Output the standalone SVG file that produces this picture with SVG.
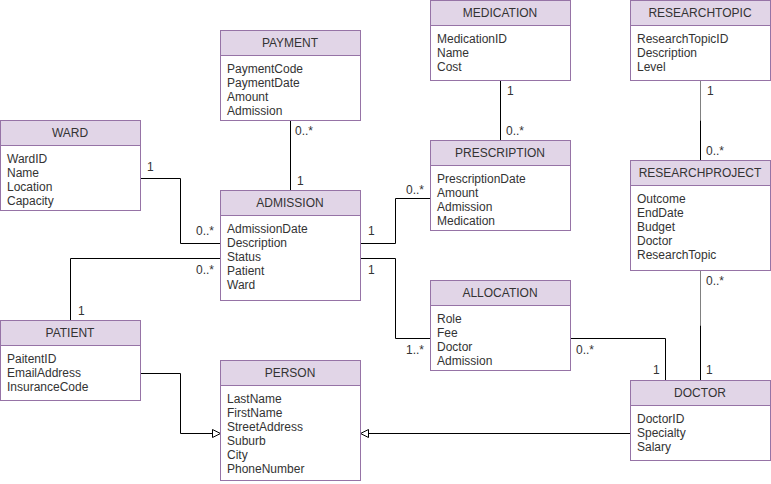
<svg xmlns="http://www.w3.org/2000/svg" width="771" height="484" viewBox="0 0 771 484">
<defs>
<style>
.box{fill:#ffffff;stroke:#9673a6;stroke-width:1}
.hdr{fill:#e1d5e7;stroke:#9673a6;stroke-width:1}
.t{font-family:"Liberation Sans",Arial,sans-serif;font-size:12px;fill:#333333}
.h{text-anchor:middle}
.c{fill:none;stroke:#000000;stroke-width:1}
.g{fill:none;stroke:#808080;stroke-width:1}
</style>
<marker id="tri" markerWidth="10" markerHeight="10" refX="9" refY="5" orient="auto" markerUnits="userSpaceOnUse">
<path d="M1,1 L9,5 L1,9 Z" fill="#ffffff" stroke="#000000" stroke-width="1"/>
</marker>
</defs>
<rect width="771" height="484" fill="#ffffff"/>

<g id="connectors">
<polyline class="c" points="140.5,178.5 180.5,178.5 180.5,243.5 220.5,243.5"/>
<polyline class="c" points="70.5,320.5 70.5,258.5 220.5,258.5"/>
<line class="c" x1="290.5" y1="120.5" x2="290.5" y2="190.5"/>
<polyline class="c" points="360.5,243.5 395.5,243.5 395.5,198.5 430.5,198.5"/>
<polyline class="c" points="360.5,258.5 395.5,258.5 395.5,338.5 430.5,338.5"/>
<polyline class="c" points="570.5,338.5 665.5,338.5 665.5,380.5"/>
<line class="c" x1="500.5" y1="80.5" x2="500.5" y2="140.5"/>
<line class="g" x1="700.5" y1="80.5" x2="700.5" y2="120.5"/>
<line class="c" x1="700.5" y1="120.5" x2="700.5" y2="160.5"/>
<line class="g" x1="700.5" y1="270.5" x2="700.5" y2="325.5"/>
<line class="c" x1="700.5" y1="325.5" x2="700.5" y2="380.5"/>
<polyline class="c" points="140.5,373.5 180.5,373.5 180.5,433.5 220.5,433.5" marker-end="url(#tri)"/>
<line class="c" x1="630.5" y1="433.5" x2="360.5" y2="433.5" marker-end="url(#tri)"/>
<text class="t" x="147" y="171">1</text>
<text class="t" x="196" y="235">0..*</text>
<text class="t" x="196" y="274">0..*</text>
<text class="t" x="78" y="315">1</text>
<text class="t" x="295" y="135">0..*</text>
<text class="t" x="297" y="185">1</text>
<text class="t" x="368" y="235">1</text>
<text class="t" x="368" y="274">1</text>
<text class="t" x="406" y="194">0..*</text>
<text class="t" x="406" y="354">1..*</text>
<text class="t" x="507" y="95">1</text>
<text class="t" x="506" y="135">0..*</text>
<text class="t" x="707" y="95">1</text>
<text class="t" x="706" y="155">0..*</text>
<text class="t" x="706" y="285">0..*</text>
<text class="t" x="706" y="374">1</text>
<text class="t" x="653" y="374">1</text>
<text class="t" x="576" y="354">0..*</text>
</g>

<g id="ward">
<rect class="box" x="0.5" y="120.5" width="140" height="90"/>
<rect class="hdr" x="0.5" y="120.5" width="140" height="25"/>
<text class="t h" x="70" y="137">WARD</text>
<text class="t" x="7" y="163">WardID</text>
<text class="t" x="7" y="177">Name</text>
<text class="t" x="7" y="191">Location</text>
<text class="t" x="7" y="205">Capacity</text>
</g>

<g id="payment">
<rect class="box" x="220.5" y="30.5" width="140" height="90"/>
<rect class="hdr" x="220.5" y="30.5" width="140" height="25"/>
<text class="t h" x="290" y="47">PAYMENT</text>
<text class="t" x="227" y="73">PaymentCode</text>
<text class="t" x="227" y="87">PaymentDate</text>
<text class="t" x="227" y="101">Amount</text>
<text class="t" x="227" y="115">Admission</text>
</g>

<g id="medication">
<rect class="box" x="430.5" y="0.5" width="140" height="80"/>
<rect class="hdr" x="430.5" y="0.5" width="140" height="25"/>
<text class="t h" x="500" y="17">MEDICATION</text>
<text class="t" x="437" y="43">MedicationID</text>
<text class="t" x="437" y="57">Name</text>
<text class="t" x="437" y="71">Cost</text>
</g>

<g id="researchtopic">
<rect class="box" x="630.5" y="0.5" width="140" height="80"/>
<rect class="hdr" x="630.5" y="0.5" width="140" height="25"/>
<text class="t h" x="700" y="17">RESEARCHTOPIC</text>
<text class="t" x="637" y="43">ResearchTopicID</text>
<text class="t" x="637" y="57">Description</text>
<text class="t" x="637" y="71">Level</text>
</g>

<g id="prescription">
<rect class="box" x="430.5" y="140.5" width="140" height="90"/>
<rect class="hdr" x="430.5" y="140.5" width="140" height="25"/>
<text class="t h" x="500" y="157">PRESCRIPTION</text>
<text class="t" x="437" y="183">PrescriptionDate</text>
<text class="t" x="437" y="197">Amount</text>
<text class="t" x="437" y="211">Admission</text>
<text class="t" x="437" y="225">Medication</text>
</g>

<g id="researchproject">
<rect class="box" x="630.5" y="160.5" width="140" height="110"/>
<rect class="hdr" x="630.5" y="160.5" width="140" height="25"/>
<text class="t h" x="700" y="177">RESEARCHPROJECT</text>
<text class="t" x="637" y="203">Outcome</text>
<text class="t" x="637" y="217">EndDate</text>
<text class="t" x="637" y="231">Budget</text>
<text class="t" x="637" y="245">Doctor</text>
<text class="t" x="637" y="259">ResearchTopic</text>
</g>

<g id="admission">
<rect class="box" x="220.5" y="190.5" width="140" height="110"/>
<rect class="hdr" x="220.5" y="190.5" width="140" height="25"/>
<text class="t h" x="290" y="207">ADMISSION</text>
<text class="t" x="227" y="233">AdmissionDate</text>
<text class="t" x="227" y="247">Description</text>
<text class="t" x="227" y="261">Status</text>
<text class="t" x="227" y="275">Patient</text>
<text class="t" x="227" y="289">Ward</text>
</g>

<g id="allocation">
<rect class="box" x="430.5" y="280.5" width="140" height="90"/>
<rect class="hdr" x="430.5" y="280.5" width="140" height="25"/>
<text class="t h" x="500" y="297">ALLOCATION</text>
<text class="t" x="437" y="323">Role</text>
<text class="t" x="437" y="337">Fee</text>
<text class="t" x="437" y="351">Doctor</text>
<text class="t" x="437" y="365">Admission</text>
</g>

<g id="patient">
<rect class="box" x="0.5" y="320.5" width="140" height="80"/>
<rect class="hdr" x="0.5" y="320.5" width="140" height="25"/>
<text class="t h" x="70" y="337">PATIENT</text>
<text class="t" x="7" y="363">PaitentID</text>
<text class="t" x="7" y="377">EmailAddress</text>
<text class="t" x="7" y="391">InsuranceCode</text>
</g>

<g id="person">
<rect class="box" x="220.5" y="360.5" width="140" height="120"/>
<rect class="hdr" x="220.5" y="360.5" width="140" height="25"/>
<text class="t h" x="290" y="377">PERSON</text>
<text class="t" x="227" y="403">LastName</text>
<text class="t" x="227" y="417">FirstName</text>
<text class="t" x="227" y="431">StreetAddress</text>
<text class="t" x="227" y="445">Suburb</text>
<text class="t" x="227" y="459">City</text>
<text class="t" x="227" y="473">PhoneNumber</text>
</g>

<g id="doctor">
<rect class="box" x="630.5" y="380.5" width="140" height="80"/>
<rect class="hdr" x="630.5" y="380.5" width="140" height="25"/>
<text class="t h" x="700" y="397">DOCTOR</text>
<text class="t" x="637" y="423">DoctorID</text>
<text class="t" x="637" y="437">Specialty</text>
<text class="t" x="637" y="451">Salary</text>
</g>
</svg>
